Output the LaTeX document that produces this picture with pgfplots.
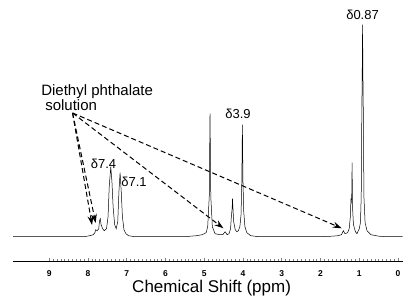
\documentclass[border=0pt]{standalone}
\usepackage{fontspec}
\setmainfont{Liberation Sans}
\usepackage{pgfplots}
\usepackage{pgfplotstable}
\pgfplotsset{compat=1.18}
\usetikzlibrary{arrows.meta}
\pgfplotstableread{
x y
9.93 0
8.10 0
7.95 1
7.86 2
7.82 4
7.80 7
7.76 6
7.72 8
7.70 16
7.68 18
7.66 12
7.62 8
7.58 6
7.52 8
7.48 20
7.45 50
7.41 70
7.38 55
7.35 30
7.31 12
7.27 8
7.23 15
7.20 45
7.17 64
7.14 45
7.11 20
7.07 7
7.02 3
6.95 1
6.80 0
5.50 0
5.20 1
5.05 2
4.95 4
4.91 10
4.87 40
4.85 123
4.83 40
4.79 10
4.72 3
4.60 2
4.52 2
4.46 5
4.41 2
4.36 3
4.32 8
4.30 20
4.28 28
4.27 38
4.26 30
4.24 15
4.20 7
4.16 5
4.12 6
4.08 10
4.05 22
4.03 55
4.015 112
4.00 55
3.98 25
3.95 10
3.90 4
3.80 1
3.60 0
2.00 0
1.70 0.5
1.55 1
1.46 2
1.41 6
1.37 3
1.30 4
1.26 8
1.23 20
1.215 38
1.205 35
1.195 40
1.185 74
1.175 30
1.15 12
1.10 5
1.06 3
1.00 8
0.97 14
0.95 40
0.935 120
0.925 160
0.915 212
0.905 160
0.895 120
0.88 40
0.85 14
0.80 6
0.70 2
0.50 0.5
0.30 0
-0.12 0
}\spec
\begin{document}
\begin{tikzpicture}
\begin{axis}[name=ax, scale only axis, width=390pt, height=261pt,
  xmin=-0.12, xmax=9.94, x dir=reverse, ymin=-24.3, ymax=236.7,
  axis x line=bottom, axis y line=none,
  x axis line style={-, line width=0.6pt},
  xtick={0,...,9}, minor x tick num=9,
  tick align=inside, major tick length=3pt, minor tick length=1.5pt,
  tick style={line width=0.5pt},
  /pgf/number format/assume math mode=true,
  xticklabel style={font=\fontsize{8.5}{9}\selectfont\bfseries, inner sep=0pt, yshift=-9.5pt},
  xlabel={Chemical Shift (ppm)},
  xlabel style={font=\fontsize{17}{17}\selectfont, at={(axis description cs:0.51,0)}, anchor=base, yshift=-32pt},
  clip=false]
\addplot[black, line width=0.5pt] table[x=x,y=y]{\spec};
\node[font=\fontsize{13}{13}\selectfont, anchor=base, inner sep=0pt] at (axis cs:7.596,68.4) {δ7.4};
\node[font=\fontsize{13}{13}\selectfont, anchor=base, inner sep=0pt] at (axis cs:6.81,50) {δ7.1};
\node[font=\fontsize{13}{13}\selectfont, anchor=base, inner sep=0pt] at (axis cs:4.127,118.4) {δ3.9};
\node[font=\fontsize{13}{13}\selectfont, anchor=base, inner sep=0pt] at (axis cs:0.916,217.4) {δ0.87};
\node[font=\fontsize{15}{12.7}\selectfont, anchor=north west, inner sep=0pt, align=left] at (axis cs:9.208,152.2) {Diethyl phthalate\\\hspace*{4pt}solution};
\begin{scope}[dash pattern=on 5pt off 3pt, line width=1pt, -{Stealth[length=9pt, width=6pt]}]
\draw (axis cs:8.396,123.7) -- (axis cs:7.893,11.7);
\draw (axis cs:8.396,123.7) -- (axis cs:7.80,13.7);
\draw (axis cs:8.396,123.7) -- (axis cs:4.505,8.4);
\draw (axis cs:8.396,123.7) -- (axis cs:1.452,8.4);
\end{scope}
\end{axis}
\pgfresetboundingbox
\path ([shift={(-12.7pt,-41pt)}]ax.south west) rectangle ([shift={(12.3pt,0pt)}]ax.north east);
\end{tikzpicture}
\end{document}
